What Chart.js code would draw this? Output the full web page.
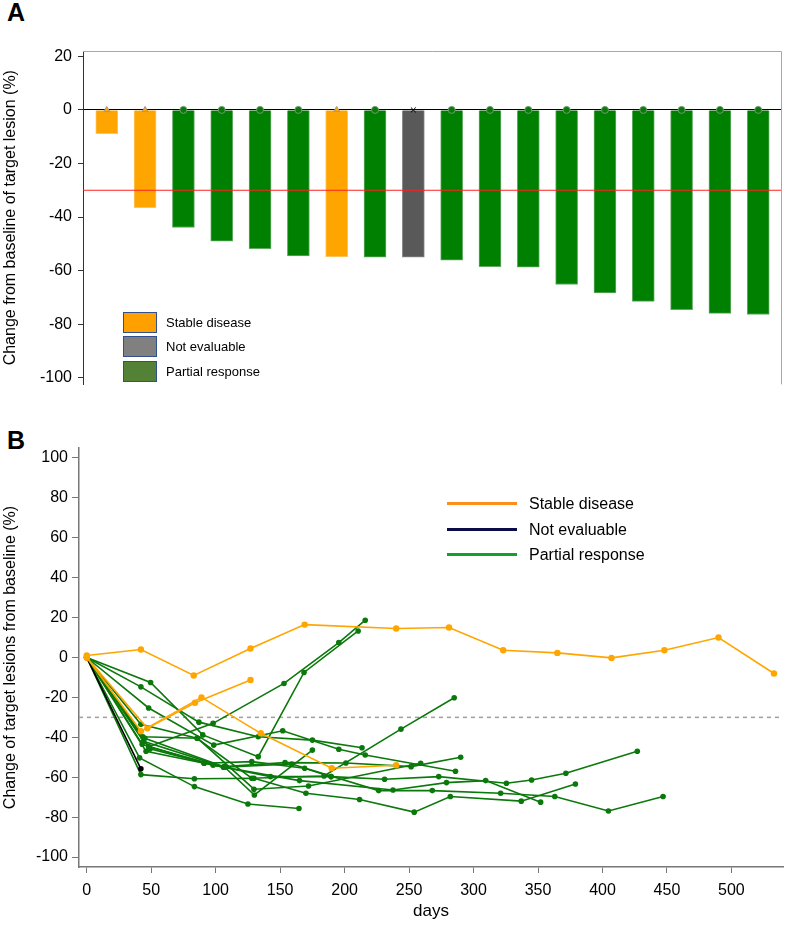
<!DOCTYPE html>
<html lang="en">
<head>
<meta charset="UTF-8">
<title>Tumour response</title>
<script src="https://cdn.jsdelivr.net/npm/chart.js@4.4.1/dist/chart.umd.min.js"></script>
<style>
    body { margin: 0; background: #fff; width: 787px; height: 933px; position: relative; overflow: hidden;
           font-family: "Liberation Sans", Arial, sans-serif; color: #000; }
    canvas { position: absolute; left: 0; }
    #chartA { top: 0; }
    #chartB { top: 400px; }
    .tag { position: absolute; left: 7px; font-weight: bold; font-size: 25px; line-height: 1; }
    .keyA { position: absolute; left: 123px; font-size: 13px; height: 21px; line-height: 21px; }
    .keyA span { display: inline-block; width: 32px; height: 19px; border: 1px solid #2f4f8f; vertical-align: top; margin-right: 9px; }
    .keyB { position: absolute; left: 447px; font-size: 16px; height: 20px; line-height: 20px; }
    .keyB span { display: inline-block; width: 70px; height: 3px; vertical-align: middle; margin-right: 12px; position: relative; top: -1px; }
</style>
</head>
<body>
    <div class="tag" style="top:0">A</div>
    <div class="tag" style="top:428px">B</div>
    <canvas id="chartA" width="787" height="400"></canvas>
    <canvas id="chartB" width="787" height="533"></canvas>
    <div id="legendA"></div>
    <div id="legendB"></div>

<script>
    // ---- data ----
    var statusNames = ['Stable disease', 'Not evaluable', 'Partial response'];

    // panel A: best change per patient
    var patients = ['1', '2', '3', '4', '5', '6', '7', '8', '9', '10', '11', '12', '13', '14', '15', '16', '17', '18'];
    var bestChange = [-8.9, -36.5, -43.9, -49, -51.8, -54.5, -54.8, -55, -55, -56.1, -58.5, -58.7, -65.2, -68.3, -71.5, -74.6, -76, -76.4];
    var bestStatus = ['SD', 'SD', 'PR', 'PR', 'PR', 'PR', 'SD', 'PR', 'NE', 'PR', 'PR', 'PR', 'PR', 'PR', 'PR', 'PR', 'PR', 'PR'];

    // panel B: [day, % change] per patient
    var sd01 = [[0, 1], [42, 4], [83, -9], [127, 4.5], [169, 16.5], [240, 14.5], [281, 15], [323, 3.6], [365, 2.3], [407, -0.2], [448, 3.6], [490, 10], [533, -8]];
    var sd02 = [[0, 0], [47, -35.5], [84, -22.7], [127, -11.3]];
    var sd03 = [[0, 0], [42, -37], [89, -20], [135, -38], [190, -55.5], [240, -54]];
    var ne01 = [[0, 0], [42, -55.8]];
    var pr01 = [[0, 0], [48, -44.7], [98, -33], [153, -13], [195.5, 7.5], [216, 18.7]];
    var pr02 = [[0, 0], [49.5, -12.5], [90, -38.8], [133, -49.7], [168.5, -7.5], [210.5, 13.3]];
    var pr03 = [[0, 0], [42, -14.7], [87, -32.4], [133, -39.7], [175, -41.4], [213.5, -45.2]];
    var pr04 = [[0, 0], [48, -25.3], [98.5, -43.9], [152, -36.7], [195.5, -46], [216, -48.9], [286, -57]];
    var pr05 = [[0, 0], [42, -33.5], [85.5, -40.5], [128, -60.5], [184, -59.4], [243.7, -35.9], [285, -20.2]];
    var pr06 = [[0, 0], [45, -40.5], [106.5, -54.7], [153.8, -52.7], [201, -52.9], [251.6, -54.7], [290, -50]];
    var pr07 = [[0, 0], [43, -43.5], [91, -53], [142.5, -59.7], [189.5, -59.7], [231, -61], [273, -59.7], [325.5, -63], [345, -61.4], [371.6, -58], [427, -47]];
    var pr08 = [[0, 0], [48, -44.7], [106, -55], [159, -53.4], [226.4, -66.7], [268, -66.7], [321, -68], [363, -69.7], [404.6, -76.9], [447, -69.7]];
    var pr09 = [[0, 0], [49, -45.8], [98, -54], [165, -61.7], [237.5, -66.4], [279, -62.7], [309.4, -61.7], [352, -72.5]];
    var pr10 = [[0, 0], [41, -50.3], [83.5, -64.7], [125, -73.4], [164.6, -75.7]];
    var pr11 = [[0, 0], [42, -58.7], [83.5, -60.8], [129.7, -60.5], [170, -68], [211.6, -71.2], [254, -77.5], [282, -69.7], [337, -72], [379, -63.4]];
    var pr12 = [[0, 0], [43.5, -39.7], [86, -40.5], [129.7, -66], [172, -64.4], [259, -53]];
    var pr13 = [[0, 0], [44, -42], [107, -55], [130, -68.9], [175, -46.4]];
    var pr14 = [[0, 0], [46, -47], [91, -53], [128, -52.2], [169, -55.5], [189.5, -59.7]];

    var sdCurves = [sd01, sd02, sd03];
    var neCurves = [ne01];
    var prCurves = [pr01, pr02, pr03, pr04, pr05, pr06, pr07, pr08, pr09, pr10, pr11, pr12, pr13, pr14];

    var responseThreshold = -30;

    // ---- styles ----
    var barFill = { SD: '#ffa500', NE: '#595959', PR: '#008000' };
    var barEdge = { SD: '#ffc35a', NE: '#8a8a8a', PR: '#63a963' };
    var markStyle = { SD: 'triangle', NE: 'crossRot', PR: 'circle' };
    var markFill = { SD: '#ffa500', NE: '#000', PR: '#0a7a0a' };
    var markEdge = { SD: '#999', NE: '#000', PR: '#6f9a6f' };
    var keyBoxA = ['#ffa000', '#808080', '#538135'];
    var keyLineB = ['#ff8f1c', '#0b0b45', '#14a02a'];
    var lineColor = { SD: '#ffa500', NE: '#000', PR: '#0a780a' };

    Chart.defaults.font.family = '"Liberation Sans", Arial, sans-serif';
    Chart.defaults.color = '#000';
    Chart.defaults.animation = false;

    var frameA = {
        id: 'frameA',
        afterDatasetsDraw(chart) {
            var a = chart.chartArea, ctx = chart.ctx;
            var y = chart.scales.y.getPixelForValue(responseThreshold);
            ctx.save();
            ctx.strokeStyle = '#ff2020';
            ctx.lineWidth = 1.2;
            ctx.beginPath();
            ctx.moveTo(a.left, y);
            ctx.lineTo(a.right, y);
            ctx.stroke();
            ctx.strokeStyle = '#a8a8a8';
            ctx.lineWidth = 1;
            ctx.beginPath();
            ctx.moveTo(a.left, a.top + 0.5);
            ctx.lineTo(a.right - 0.5, a.top + 0.5);
            ctx.lineTo(a.right - 0.5, a.bottom);
            ctx.stroke();
            ctx.restore();
        }
    };

    var dashB = {
        id: 'dashB',
        beforeDatasetsDraw(chart) {
            var a = chart.chartArea, ctx = chart.ctx;
            var y = chart.scales.y.getPixelForValue(responseThreshold);
            ctx.save();
            ctx.strokeStyle = '#a0a0a0';
            ctx.lineWidth = 1.5;
            ctx.setLineDash([4, 4]);
            ctx.beginPath();
            ctx.moveTo(a.left, y);
            ctx.lineTo(a.right, y);
            ctx.stroke();
            ctx.restore();
        }
    };

    // ---- panel A ----
    var barPoints = bestChange.map(function (v, i) { return { x: i + 1, y: v }; });
    var zeroPoints = patients.map(function (p, i) { return { x: i + 1, y: 0 }; });

    new Chart(document.getElementById('chartA'), {
        type: 'bar',
        data: {
            datasets: [{
                type: 'line',
                data: zeroPoints,
                showLine: false,
                pointStyle: bestStatus.map(function (s) { return markStyle[s]; }),
                pointBackgroundColor: bestStatus.map(function (s) { return markFill[s]; }),
                pointBorderColor: bestStatus.map(function (s) { return markEdge[s]; }),
                pointBorderWidth: 1,
                pointRadius: 3.5,
                order: 0
            }, {
                data: barPoints,
                backgroundColor: bestStatus.map(function (s) { return barFill[s]; }),
                borderColor: bestStatus.map(function (s) { return barEdge[s]; }),
                borderWidth: 1,
                barThickness: 22,
                order: 1
            }]
        },
        options: {
            responsive: false,
            layout: { padding: { top: 51, right: 1, bottom: 7, left: 0 } },
            plugins: { legend: { display: false }, tooltip: { enabled: false } },
            scales: {
                x: { type: 'linear', display: false, offset: false, min: 0.38, max: 18.62 },
                y: {
                    min: -102.5, max: 22,
                    afterFit: function (s) { s.width = 83; },
                    border: { color: '#333', width: 1 },
                    grid: {
                        color: function (c) { return c.tick && c.tick.value === 0 ? '#000' : 'rgba(0,0,0,0)'; },
                        tickColor: '#333', tickLength: 5
                    },
                    ticks: { stepSize: 20, includeBounds: false, padding: 6, font: { size: 16 } },
                    title: {
                        display: true, text: 'Change from baseline of target lesion (%)',
                        font: { size: 16 }, padding: { top: 1, bottom: 0 }
                    }
                }
            }
        },
        plugins: [frameA]
    });

    // ---- panel B ----
    function curve(points, status) {
        return {
            data: points.map(function (p) { return { x: p[0], y: p[1] }; }),
            showLine: true,
            borderColor: lineColor[status],
            backgroundColor: lineColor[status],
            borderWidth: 1.6,
            pointRadius: status === 'SD' ? 3.2 : 2.8,
            pointBorderWidth: 0
        };
    }

    var curvesB = []
        .concat(sdCurves.map(function (c) { return curve(c, 'SD'); }))
        .concat(neCurves.map(function (c) { return curve(c, 'NE'); }))
        .concat(prCurves.map(function (c) { return curve(c, 'PR'); }));

    new Chart(document.getElementById('chartB'), {
        type: 'scatter',
        data: { datasets: curvesB },
        options: {
            responsive: false,
            layout: { padding: { top: 48, right: 1, bottom: 0, left: 0 } },
            plugins: { legend: { display: false }, tooltip: { enabled: false } },
            scales: {
                x: {
                    min: -6, max: 540,
                    afterFit: function (s) { s.height = 66; },
                    border: { color: '#777', width: 1.5 },
                    grid: { drawOnChartArea: false, tickColor: '#777', tickLength: 6 },
                    ticks: { stepSize: 50, includeBounds: false, padding: 8, maxRotation: 0, font: { size: 16 } },
                    title: { display: true, text: 'days', font: { size: 17 }, padding: { top: 0, bottom: 11 } }
                },
                y: {
                    min: -105, max: 105,
                    afterFit: function (s) { s.width = 79; },
                    border: { color: '#777', width: 1.5 },
                    grid: { drawOnChartArea: false, tickColor: '#777', tickLength: 7 },
                    ticks: { stepSize: 20, includeBounds: false, padding: 4, font: { size: 16 } },
                    title: {
                        display: true, text: 'Change of target lesions from baseline (%)',
                        font: { size: 16 }, padding: { top: 1, bottom: 0 }
                    }
                }
            }
        },
        plugins: [dashB]
    });

    // ---- legends ----
    var keyTopsA = [312, 336, 361];
    var keyTopsB = [494, 520, 545];
    document.getElementById('legendA').innerHTML = statusNames.map(function (n, i) {
        return '<div class="keyA" style="top:' + keyTopsA[i] + 'px"><span style="background:' + keyBoxA[i] + '"></span>' + n + '</div>';
    }).join('');
    document.getElementById('legendB').innerHTML = statusNames.map(function (n, i) {
        return '<div class="keyB" style="top:' + keyTopsB[i] + 'px"><span style="background:' + keyLineB[i] + '"></span>' + n + '</div>';
    }).join('');
</script>
</body>
</html>
